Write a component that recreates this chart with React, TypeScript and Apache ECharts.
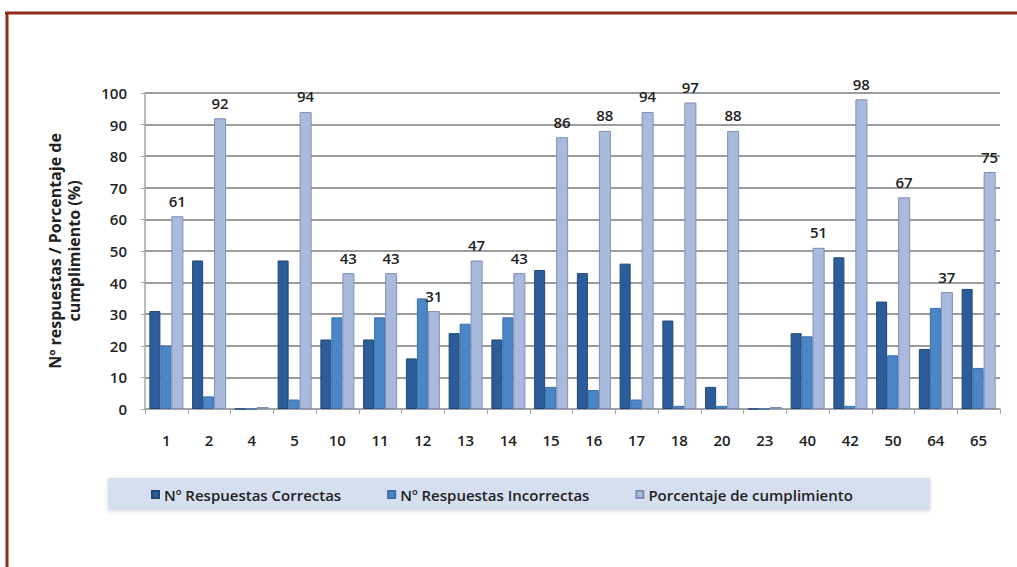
import React, { useEffect, useRef } from "react";
import * as echarts from "echarts";

const categories = ["1", "2", "4", "5", "10", "11", "12", "13", "14", "15", "16", "17", "18", "20", "23", "40", "42", "50", "64", "65"];
const correctas = [31, 47, 0, 47, 22, 22, 16, 24, 22, 44, 43, 46, 28, 7, 0, 24, 48, 34, 19, 38];
const incorrectas = [20, 4, 0, 3, 29, 29, 35, 27, 29, 7, 6, 3, 1, 1, 0, 23, 1, 17, 32, 13];
const porcentaje = [61, 92, 0, 94, 43, 43, 31, 47, 43, 86, 88, 94, 97, 88, 0, 51, 98, 67, 37, 75];
const yTicks = [0, 10, 20, 30, 40, 50, 60, 70, 80, 90, 100];
const seriesNames = ["Nº Respuestas Correctas", "Nº Respuestas Incorrectas", "Porcentaje de cumplimiento"];

const FONT = "'Open Sans', 'Noto Sans', sans-serif";

export default function App() {
  const ref = useRef<HTMLDivElement>(null);
  useEffect(() => {
    if (!ref.current) return;
    const chart = echarts.init(ref.current, null, { renderer: "svg" });
    chart.setOption({
      animation: false,
      backgroundColor: "#ffffff",
      textStyle: { fontFamily: FONT },
      grid: { left: 145, right: 17, top: 93, bottom: 158 },
      graphic: [
        { type: "line", shape: { x1: 5, y1: 13, x2: 1017, y2: 13 }, style: { stroke: "#8e2a1e", lineWidth: 3 } },
        { type: "line", shape: { x1: 7, y1: 13, x2: 7, y2: 567 }, style: { stroke: "#8e2a1e", lineWidth: 3 } },
        {
          type: "rect",
          z: 0,
          shape: { x: 108, y: 478, width: 822, height: 32 },
          style: { fill: "#d5dff0", shadowBlur: 4, shadowColor: "rgba(0,0,0,0.15)", shadowOffsetY: 1 },
        },
      ],
      legend: {
        z: 5,
        left: 146,
        top: 482,
        itemWidth: 7,
        itemHeight: 7,
        itemGap: 46,
        icon: "rect",
        textStyle: { fontFamily: FONT, fontSize: 15, fontWeight: 600, color: "#222222" },
        data: seriesNames,
      },
      xAxis: {
        type: "category",
        data: categories,
        axisLine: { lineStyle: { color: "#a6a6a6", width: 1.5 } },
        axisTick: { show: true, length: 5, lineStyle: { color: "#a6a6a6" } },
        axisLabel: { margin: 23, fontSize: 15, fontWeight: 600, color: "#222222", fontFamily: FONT },
      },
      yAxis: {
        type: "value",
        min: 0,
        max: 100,
        interval: 10,
        name: "Nº respuestas / Porcentaje de\ncumplimiento (%)",
        nameLocation: "middle",
        nameRotate: 90,
        nameGap: 62,
        nameTextStyle: { fontFamily: FONT, fontSize: 16, fontWeight: "bold", color: "#222222", lineHeight: 19 },
        axisLine: { show: true, lineStyle: { color: "#a6a6a6", width: 1.5 } },
        axisTick: { show: true, length: 4, lineStyle: { color: "#a6a6a6" } },
        axisLabel: {
          margin: 18,
          fontSize: 15,
          fontWeight: 600,
          color: "#222222",
          fontFamily: FONT,
          formatter: (v: number) => (yTicks.indexOf(v) >= 0 ? String(v) : ""),
        },
        splitLine: { show: true, lineStyle: { color: "#9c9c9c", width: 2 } },
      },
      series: [
        {
          name: seriesNames[0],
          type: "bar",
          data: correctas,
          barWidth: 11,
          barGap: "0%",
          itemStyle: { color: "#2d5c9a", borderColor: "#1f4778", borderWidth: 1 },
        },
        {
          name: seriesNames[1],
          type: "bar",
          data: incorrectas,
          barWidth: 11,
          barGap: "0%",
          itemStyle: { color: "#4b86c7", borderColor: "#3a6fab", borderWidth: 1 },
        },
        {
          name: seriesNames[2],
          type: "bar",
          data: porcentaje,
          barWidth: 12,
          barGap: "0%",
          barMinHeight: 2,
          itemStyle: { color: "#aabadd", borderColor: "#7f8fb6", borderWidth: 1 },
          label: {
            show: true,
            position: "top",
            distance: 8,
            fontSize: 15,
            fontWeight: 600,
            color: "#222222",
            fontFamily: FONT,
            formatter: (p: any) => (p.value ? String(p.value) : ""),
          },
        },
      ],
    });
    return () => chart.dispose();
  }, []);
  return (
    <div
      ref={ref}
      style={{ position: "fixed", left: 0, top: 0, width: 1017, height: 567, background: "#fff" }}
    />
  );
}
